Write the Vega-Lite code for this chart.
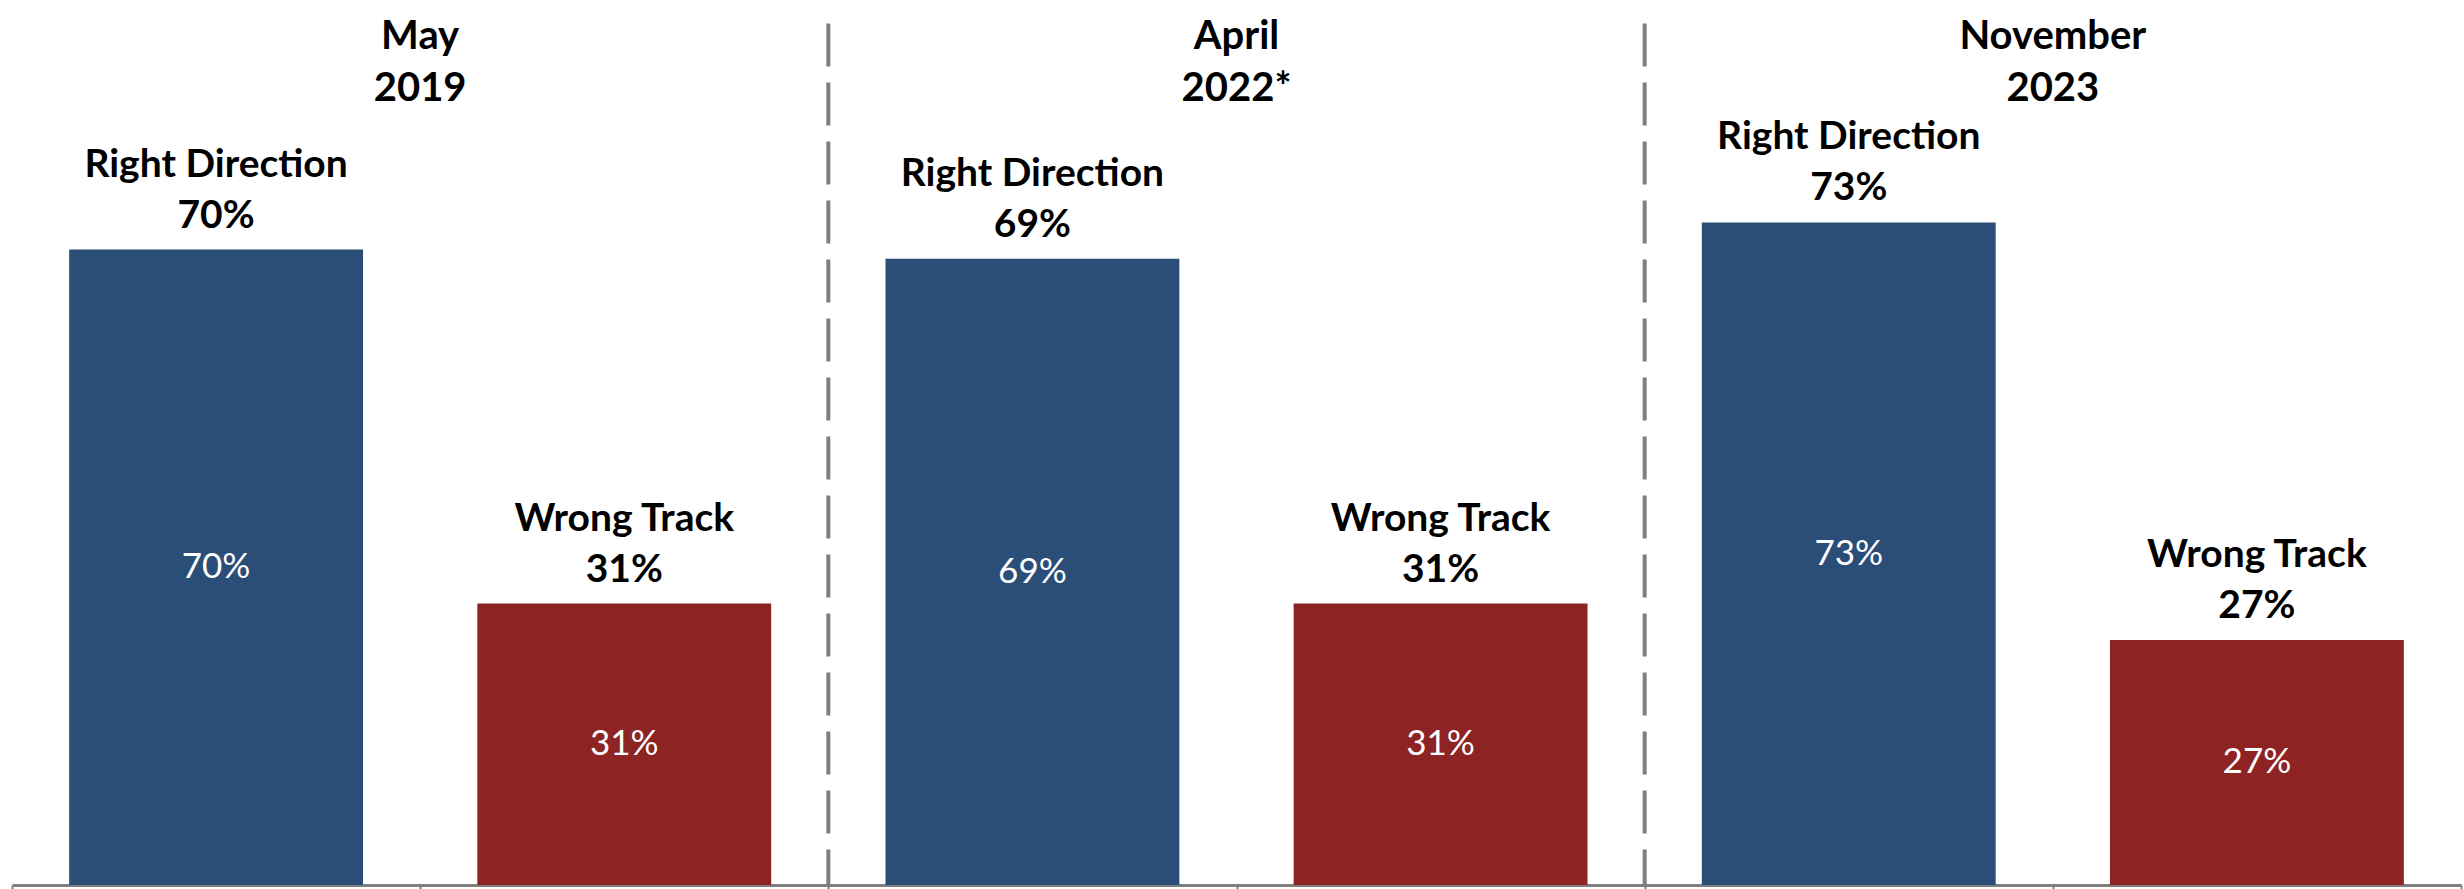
{
  "$schema": "https://vega.github.io/schema/vega-lite/v6.json",
  "width": 2449,
  "height": 885,
  "autosize": {"type": "none"},
  "padding": {"left": 12, "right": 3, "top": 0, "bottom": 4},
  "background": "white",
  "config": {"view": {"stroke": null}, "font": "Lato"},
  "data": {
    "values": [
      {"period": "May 2019", "answer": "Right Direction", "bar": "May 2019 – Right Direction", "value": 0.70},
      {"period": "May 2019", "answer": "Wrong Track", "bar": "May 2019 – Wrong Track", "value": 0.31},
      {"period": "April 2022*", "answer": "Right Direction", "bar": "April 2022* – Right Direction", "value": 0.69},
      {"period": "April 2022*", "answer": "Wrong Track", "bar": "April 2022* – Wrong Track", "value": 0.31},
      {"period": "November 2023", "answer": "Right Direction", "bar": "November 2023 – Right Direction", "value": 0.73},
      {"period": "November 2023", "answer": "Wrong Track", "bar": "November 2023 – Wrong Track", "value": 0.27}
    ]
  },
  "encoding": {
    "x": {
      "field": "bar",
      "type": "nominal",
      "sort": null,
      "scale": {"paddingInner": 0, "paddingOuter": 0},
      "axis": {
        "title": null,
        "labels": false,
        "tickBand": "extent",
        "domainColor": "#7f7f7f",
        "domainWidth": 3,
        "tickColor": "#7f7f7f",
        "tickWidth": 2,
        "tickSize": 6,
        "grid": false
      }
    }
  },
  "layer": [
    {
      "mark": {"type": "bar", "width": {"band": 0.72}},
      "encoding": {
        "y": {"field": "value", "type": "quantitative", "scale": {"domain": [0, 0.975], "nice": false}, "axis": null},
        "color": {
          "field": "answer",
          "type": "nominal",
          "scale": {"domain": ["Right Direction", "Wrong Track"], "range": ["#2A4E77", "#8E2323"]},
          "legend": null
        }
      }
    },
    {
      "mark": {"type": "text", "color": "white", "fontSize": 35, "baseline": "middle", "align": "center"},
      "encoding": {
        "y": {"field": "value", "type": "quantitative", "scale": {"domain": [0, 1.95], "nice": false}, "axis": null},
        "text": {"field": "value", "type": "quantitative", "format": ".0%"}
      }
    },
    {
      "mark": {"type": "text", "color": "black", "fontSize": 39, "fontWeight": "bold", "baseline": "alphabetic", "align": "center", "dy": -22},
      "encoding": {
        "y": {"field": "value", "type": "quantitative", "scale": {"domain": [0, 0.975], "nice": false}, "axis": null},
        "text": {"field": "value", "type": "quantitative", "format": ".0%"}
      }
    },
    {
      "mark": {"type": "text", "color": "black", "fontSize": 39, "fontWeight": "bold", "baseline": "alphabetic", "align": "center", "dy": -73},
      "encoding": {
        "y": {"field": "value", "type": "quantitative", "scale": {"domain": [0, 0.975], "nice": false}, "axis": null},
        "text": {"field": "answer", "type": "nominal"}
      }
    },
    {
      "transform": [{"filter": "datum.answer == 'Wrong Track'"}],
      "mark": {"type": "text", "color": "black", "fontSize": 40, "fontWeight": "bold", "baseline": "alphabetic", "align": "center", "lineBreak": " ", "lineHeight": 52},
      "encoding": {
        "x": {"field": "bar", "type": "nominal", "sort": null, "bandPosition": 0},
        "y": {"datum": 0.921, "type": "quantitative", "scale": {"domain": [0, 0.975], "nice": false}, "axis": null},
        "text": {"field": "period", "type": "nominal"}
      }
    },
    {
      "transform": [{"filter": "datum.answer == 'Right Direction' && datum.period != 'May 2019'"}],
      "mark": {"type": "rule", "color": "#7f7f7f", "strokeWidth": 4, "strokeDash": [43, 16]},
      "encoding": {
        "x": {"field": "bar", "type": "nominal", "sort": null, "bandPosition": 0},
        "y": {"datum": 0.949, "type": "quantitative", "scale": {"domain": [0, 0.975], "nice": false}, "axis": null},
        "y2": {"datum": 0}
      }
    }
  ],
  "resolve": {"scale": {"y": "independent"}}
}
